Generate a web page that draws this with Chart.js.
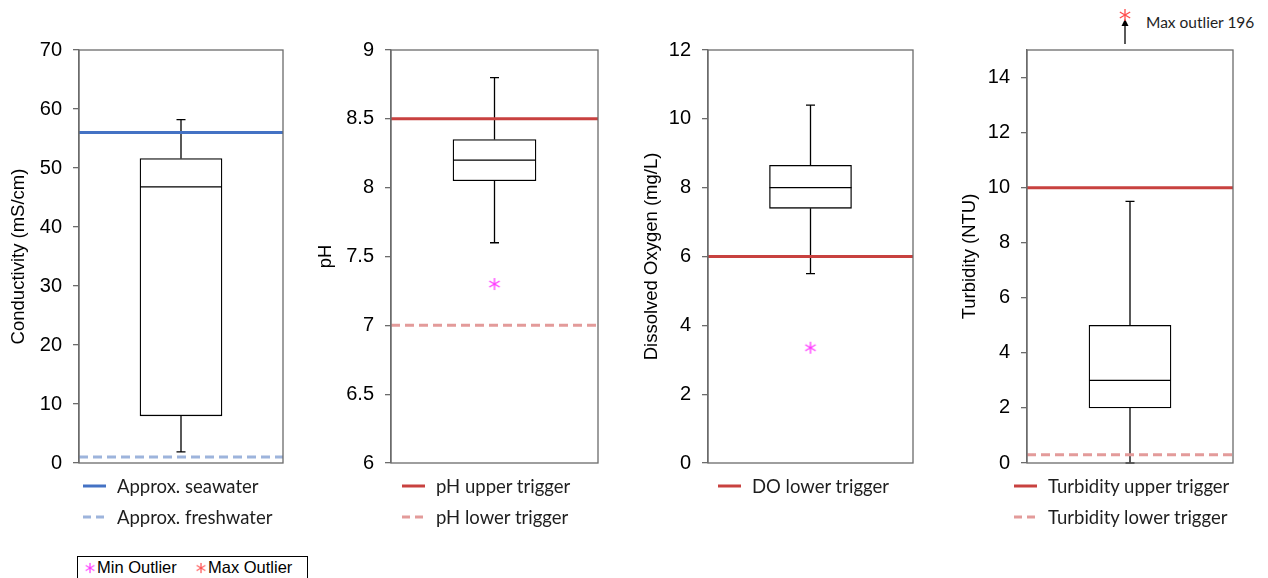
<!DOCTYPE html>
<html>
<head>
<meta charset="utf-8">
<script src="https://cdn.jsdelivr.net/npm/chart.js@4.4.1/dist/chart.umd.min.js"></script>
<style>
  body { margin: 0; width: 1268px; height: 578px; overflow: hidden; background: #fff; position: relative; }
  canvas { position: absolute; top: 0; }
  .leg { position: absolute; display: flex; align-items: center; height: 24px; font-family: Lato, sans-serif; font-size: 18.5px; color: #1e1e1e; white-space: nowrap; }
  .leg svg { margin-right: 11px; }
  #note { position: absolute; left: 1146px; top: 13px; font-family: Lato, sans-serif; font-size: 15.5px; color: #1e1e1e; white-space: nowrap; }
  #outKey { position: absolute; left: 77px; top: 556px; width: 229px; height: 40px; border: 1px solid #000; font-family: "Liberation Sans", Arial, sans-serif; font-size: 16.5px; color: #000; }
  #outKey span { position: absolute; top: 1px; white-space: nowrap; }
  #outKey img { vertical-align: -1px; margin-right: 1px; }
</style>
</head>
<body>

<div id="note"></div>
<div id="outKey"></div>

<script>
// DATA
const categories = ["Conductivity", "pH", "Dissolved Oxygen", "Turbidity"];
const yTitles = ["Conductivity (mS/cm)", "pH", "Dissolved Oxygen (mg/L)", "Turbidity (NTU)"];

const boxMin = [1.9, 7.6, 5.5, 0];
const boxQ1 = [8.0, 8.05, 7.4, 2.0];
const boxMedian = [46.8, 8.2, 8.0, 3.0];
const boxQ3 = [51.6, 8.35, 8.65, 5.0];
const boxMax = [58.2, 8.8, 10.4, 9.5];
const minOutliers = [null, 7.3, 3.35, null];
const maxOutliers = [null, null, null, 196];

const yMin = [0, 6, 0, 0];
const yMax = [70, 9, 12, 15];
const yTicks = [
  [0, 10, 20, 30, 40, 50, 60, 70],
  [6, 6.5, 7, 7.5, 8, 8.5, 9],
  [0, 2, 4, 6, 8, 10, 12],
  [0, 2, 4, 6, 8, 10, 12, 14],
];

const refLabels = [
  ["Approx. seawater", "Approx. freshwater"],
  ["pH upper trigger", "pH lower trigger"],
  ["DO lower trigger"],
  ["Turbidity upper trigger", "Turbidity lower trigger"],
];
const refValues = [[56, 1], [8.5, 7], [6], [10, 0.3]];

// styles for each reference line
const refColors = [["#4472C4", "#9DB4DC"], ["#C8413F", "#E39B9A"], ["#C8413F"], ["#C8413F", "#E39B9A"]];
const refDashed = [[false, true], [false, true], [false], [false, true]];

// layout (pixels)
const canvasLeft = [0, 310, 630, 945];
const axisX = [79, 391, 708, 1027];
const plotRight = [283, 599, 914, 1233];
const titleX = [19, 326, 652, 970];
const legendLeft = [83, 402, 718, 1014];
const legendRows = [486, 517];
const plotTop = 50, plotBottom = 463;
const boxCenter = 0.5, boxShare = 0.4;
const frameColor = "#6b6b6b";

// asterisk marker, like the spreadsheet one
function makeAsterisk(color) {
  const c = document.createElement("canvas");
  c.width = 14; c.height = 14;
  const g = c.getContext("2d");
  g.strokeStyle = color;
  g.lineWidth = 1.3;
  [90, 30, 150].forEach(a => {
    const r = a * Math.PI / 180;
    g.beginPath();
    g.moveTo(7 - 6 * Math.cos(r), 7 - 6 * Math.sin(r));
    g.lineTo(7 + 6 * Math.cos(r), 7 + 6 * Math.sin(r));
    g.stroke();
  });
  return c;
}
const minStar = makeAsterisk("#FF33FF");
const maxStar = makeAsterisk("#FF4B4B");

// whiskers + median, drawn right after the box
const boxPlugin = {
  id: "boxParts",
  afterDatasetDraw(chart, args) {
    if (args.index !== 0) return;
    const i = chart.options.plugins.boxParts.panel;
    const bar = args.meta.data[0];
    const y = chart.scales.y;
    const ctx = chart.ctx;
    const half = bar.width / 2;
    const cap = 4.5;
    ctx.save();
    ctx.strokeStyle = "#000";
    ctx.lineWidth = 1.3;
    ctx.beginPath();
    ctx.moveTo(bar.x - half, y.getPixelForValue(boxMedian[i]));
    ctx.lineTo(bar.x + half, y.getPixelForValue(boxMedian[i]));
    ctx.moveTo(bar.x, y.getPixelForValue(boxQ3[i]));
    ctx.lineTo(bar.x, y.getPixelForValue(boxMax[i]));
    ctx.moveTo(bar.x - cap, y.getPixelForValue(boxMax[i]));
    ctx.lineTo(bar.x + cap, y.getPixelForValue(boxMax[i]));
    ctx.moveTo(bar.x, y.getPixelForValue(boxQ1[i]));
    ctx.lineTo(bar.x, y.getPixelForValue(boxMin[i]));
    ctx.moveTo(bar.x - cap, y.getPixelForValue(boxMin[i]));
    ctx.lineTo(bar.x + cap, y.getPixelForValue(boxMin[i]));
    ctx.stroke();
    ctx.restore();
  },
  afterDraw(chart) {
    const i = chart.options.plugins.boxParts.panel;
    const a = chart.chartArea;
    const ctx = chart.ctx;
    ctx.save();
    ctx.strokeStyle = frameColor;
    ctx.lineWidth = 1.3;
    ctx.strokeRect(a.left, a.top, a.right - a.left, a.bottom - a.top);
    // off-scale max outlier: marker above the frame with an arrow
    if (maxOutliers[i] != null) {
      const x = chart.getDatasetMeta(0).data[0].x - 5;
      ctx.strokeStyle = "#000";
      ctx.fillStyle = "#000";
      ctx.lineWidth = 1.3;
      ctx.beginPath();
      ctx.moveTo(x, a.top - 6);
      ctx.lineTo(x, 24);
      ctx.stroke();
      ctx.beginPath();
      ctx.moveTo(x, 19);
      ctx.lineTo(x - 3.5, 26);
      ctx.lineTo(x + 3.5, 26);
      ctx.closePath();
      ctx.fill();
      ctx.drawImage(maxStar, x - 7, 15 - 7);
    }
    ctx.restore();
  },
};

const tickFont = { family: "'Liberation Sans', Arial, sans-serif", size: 20 };
const titleFont = { family: "'Liberation Sans', Arial, sans-serif", size: 18.5 };

for (let i = 0; i < categories.length; i++) {
  const cv = document.createElement("canvas");
  const w = plotRight[i] - canvasLeft[i] + 4;
  cv.width = w; cv.height = 578;
  cv.style.left = canvasLeft[i] + "px";
  cv.style.width = w + "px"; cv.style.height = "578px";
  document.body.appendChild(cv);

  const datasets = [{
    type: "bar",
    label: categories[i],
    data: [{ x: boxCenter, y: [boxQ1[i], boxQ3[i]] }],
    backgroundColor: "#fff",
    borderColor: "#000",
    borderWidth: 1.3,
    borderSkipped: false,
    barThickness: Math.round(boxShare * (plotRight[i] - axisX[i])),
    order: 2,
  }];
  refValues[i].forEach((v, j) => {
    datasets.push({
      type: "line",
      label: refLabels[i][j],
      data: [{ x: 0, y: v }, { x: 1, y: v }],
      borderColor: refColors[i][j],
      borderWidth: 3,
      borderDash: refDashed[i][j] ? [9, 5] : [],
      pointRadius: 0,
      order: 1,
    });
  });
  if (minOutliers[i] != null) {
    datasets.push({
      type: "line",
      label: "Min Outlier",
      data: [{ x: boxCenter, y: minOutliers[i] }],
      showLine: false,
      pointStyle: minStar,
      order: 0,
    });
  }

  new Chart(cv, {
    type: "bar",
    data: { datasets },
    options: {
      responsive: false,
      animation: false,
      events: [],
      layout: { padding: { top: plotTop, bottom: 578 - plotBottom, left: 0, right: 4 } },
      plugins: { legend: { display: false }, tooltip: { enabled: false }, boxParts: { panel: i } },
      scales: {
        x: { type: "linear", display: false, min: 0, max: 1, offset: false },
        y: {
          min: yMin[i],
          max: yMax[i],
          afterBuildTicks: s => { s.ticks = yTicks[i].map(v => ({ value: v })); },
          afterFit: s => { s.width = axisX[i] - canvasLeft[i]; },
          ticks: { callback: v => String(v), font: tickFont, color: "#000", padding: 11 },
          grid: { drawOnChartArea: false, tickLength: 6, color: frameColor, lineWidth: 1.3 },
          border: { color: frameColor, width: 1.3 },
          title: {
            display: true,
            text: yTitles[i],
            font: titleFont,
            color: "#000",
            padding: { top: titleX[i] - canvasLeft[i] - 11, bottom: 0 },
          },
        },
      },
    },
    plugins: [boxPlugin],
  });

  // legend for the reference lines
  refLabels[i].forEach((label, j) => {
    const d = document.createElement("div");
    d.className = "leg";
    d.style.left = legendLeft[i] + "px";
    d.style.top = (legendRows[j] - 12) + "px";
    const dash = refDashed[i][j] ? ' stroke-dasharray="8 5"' : "";
    d.innerHTML = `<svg width="23" height="6"><line x1="0" y1="3" x2="23" y2="3" stroke="${refColors[i][j]}" stroke-width="3"${dash}/></svg>`;
    d.appendChild(document.createTextNode(label));
    document.body.appendChild(d);
  });
}

document.getElementById("note").textContent = "Max outlier " + maxOutliers[3];

const key = document.getElementById("outKey");
key.innerHTML = `<span style="left:6px"><img src="${minStar.toDataURL()}" width="12" height="12">Min Outlier</span>` +
  `<span style="left:117px"><img src="${maxStar.toDataURL()}" width="12" height="12">Max Outlier</span>`;
</script>
</body>
</html>
